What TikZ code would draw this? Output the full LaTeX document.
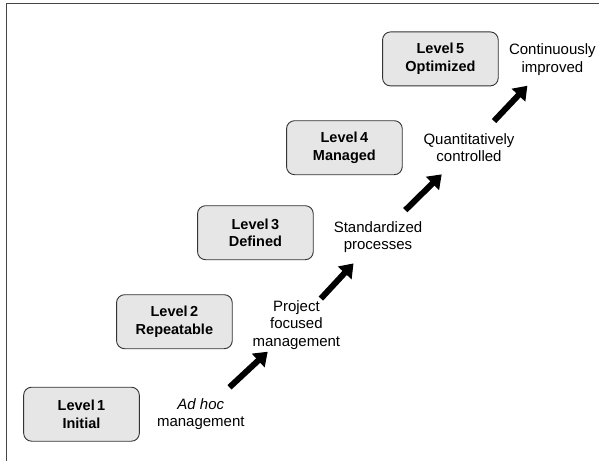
\documentclass[tikz,border=0pt]{standalone}
\usepackage{fontspec}
\setmainfont{Liberation Sans}
\usetikzlibrary{positioning,arrows.meta,calc}
\definecolor{boxfill}{HTML}{E6E6E6}
\definecolor{boxline}{HTML}{333333}
\definecolor{framecol}{HTML}{454545}

\begin{document}
\begin{tikzpicture}[x=1pt, y=-1pt,
        level/.style={draw=boxline, fill=boxfill, line width=0.9pt, rounded corners=8pt,
            minimum width=115.7pt, minimum height=54pt, align=center, inner sep=0pt,
            font=\fontsize{14.5}{17.7}\selectfont\bfseries},
        note/.style={align=center, inner sep=0pt, font=\fontsize{15}{17.7}\selectfont},
        bigarrow/.style={line width=6pt, -{Triangle[length=13pt,width=18pt]}}]
        \useasboundingbox (0,0) rectangle (599,461);
        \draw[framecol, line width=1.3pt] (6.5,461) -- (6.5,3.5) -- (599,3.5);
        \node[level] (lev1) at (81.5,414.2) {Level\,1\\Initial};
        \node[level] (lev2) at (174.4,321.7) {Level\,2\\Repeatable};
        \node[level] (lev3) at (255.4,232.7) {Level\,3\\Defined};
        \node[level] (lev4) at (344.4,147.7) {Level\,4\\Managed};
        \node[level] (lev5) at (440.4,58.9) {Level\,5\\Optimized};
        \node[note] (note1) at (200.8,414) {\itshape Ad hoc\\management};
        \node[note] (note2) at (296.4,325) {Project\\focused\\management};
        \node[note] (note3) at (378,237) {Standardized\\processes};
        \node[note] (note4) at (469,147.5) {Quantitatively\\controlled};
        \node[note] (note5) at (552.4,59.3) {Continuously\\improved};
        \foreach \a/\b in {note1/note2, note2/note3, note3/note4, note4/note5}
            \draw[bigarrow] ($(\a)!0.3!(\b)$) -- ($(\a)!0.7!(\b)$);
    \end{tikzpicture}
\end{document}
